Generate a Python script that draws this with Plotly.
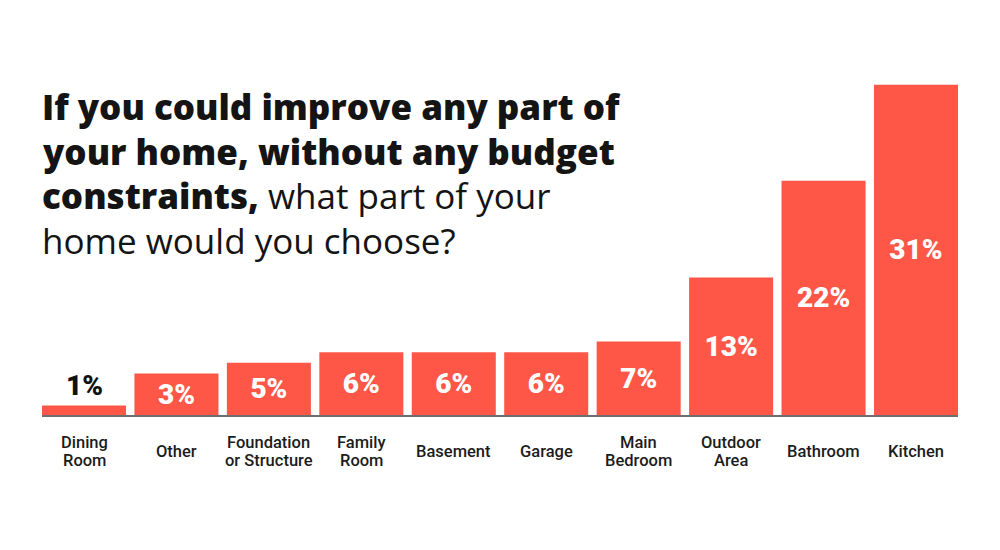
import plotly.graph_objects as go

# ---- data ----
categories = ["Dining Room", "Other", "Foundation or Structure", "Family Room", "Basement",
              "Garage", "Main Bedroom", "Outdoor Area", "Bathroom", "Kitchen"]
category_lines = [["Dining", "Room"], ["Other"], ["Foundation", "or Structure"], ["Family", "Room"],
                  ["Basement"], ["Garage"], ["Main", "Bedroom"], ["Outdoor", "Area"],
                  ["Bathroom"], ["Kitchen"]]
bar_heights = [0.9, 3.9, 4.9, 5.9, 5.9, 5.9, 6.9, 12.9, 22, 31]
value_labels = ["1%", "3%", "5%", "6%", "6%", "6%", "7%", "13%", "22%", "31%"]
title_lines = [
    ("If you could improve any part of", ""),
    ("your home, without any budget", ""),
    ("constraints,", " what part of your"),
    ("", "home would you choose?"),
]

# ---- style ----
OFF = 8                      # page body margin
W, H = 1000 - 2 * OFF, 550 - 2 * OFF
PLOT_LEFT, PLOT_RIGHT, PLOT_TOP, PLOT_BOTTOM = 42, 958, 40, 415   # page pixels
ML, MR = PLOT_LEFT - OFF, W - (PLOT_RIGHT - OFF)
MT, MB = PLOT_TOP - OFF, H - (PLOT_BOTTOM - OFF)
PH = PLOT_BOTTOM - PLOT_TOP
BAR_COLOR = "#FF5747"
NUM_FONT = "Roboto"
TITLE_FONT = "Open Sans"
LABEL_FONT = "Roboto"
Y_MAX = 35.2
BAR_GAP = 0.091


def paper_y(py):
    return (PLOT_BOTTOM - py) / PH


fig = go.Figure()

inside_text = [t if v >= 2 else "" for t, v in zip(value_labels, bar_heights)]
fig.add_trace(go.Bar(
    x=categories, y=bar_heights,
    marker=dict(color=BAR_COLOR, line=dict(width=0)),
    text=inside_text, textposition="inside", insidetextanchor="middle",
    constraintext="none",
    textfont=dict(family=NUM_FONT, size=28, color="white", weight=900),
    hoverinfo="skip",
))

annotations = []
for c, v, t in zip(categories, bar_heights, value_labels):
    if v < 2:
        annotations.append(dict(
            x=c, y=v, xref="x", yref="y", text=t, showarrow=False,
            yanchor="bottom", yshift=1,
            font=dict(family=NUM_FONT, size=28, color="#111111", weight=900)))

for c, lines in zip(categories, category_lines):
    centers = [451] if len(lines) == 1 else [442, 460]
    for ln, cy in zip(lines, centers):
        annotations.append(dict(
            x=c, y=paper_y(cy), xref="x", yref="paper", text=ln, showarrow=False,
            yanchor="middle", xanchor="center",
            font=dict(family=LABEL_FONT, size=16.5, color="#1c1c1c", weight=500)))

title_centers = [106, 151, 195, 240]
for (bold, reg), cy in zip(title_lines, title_centers):
    txt = ""
    if bold:
        txt += '<span style="font-weight:800">' + bold + "</span>"
    if reg:
        txt += '<span style="font-weight:400">' + reg + "</span>"
    annotations.append(dict(
        x=0, y=paper_y(cy), xref="paper", yref="paper", text=txt, showarrow=False,
        xanchor="left", yanchor="middle", xshift=-2,
        font=dict(family=TITLE_FONT, size=35, color="#141414")))

fig.update_layout(
    width=W, height=H,
    margin=dict(l=ML, r=MR, t=MT, b=MB),
    paper_bgcolor="white", plot_bgcolor="white",
    bargap=BAR_GAP, showlegend=False,
    xaxis=dict(type="category", range=[-0.5 + BAR_GAP / 2, len(categories) - 0.5 - BAR_GAP / 2],
               showline=True, linecolor="#6e6e6e", linewidth=2, showticklabels=False,
               ticks="", showgrid=False, zeroline=False, fixedrange=True),
    yaxis=dict(range=[0, Y_MAX], visible=False, showgrid=False, zeroline=False, fixedrange=True),
    annotations=annotations,
)

fig.write_html("out.html")
